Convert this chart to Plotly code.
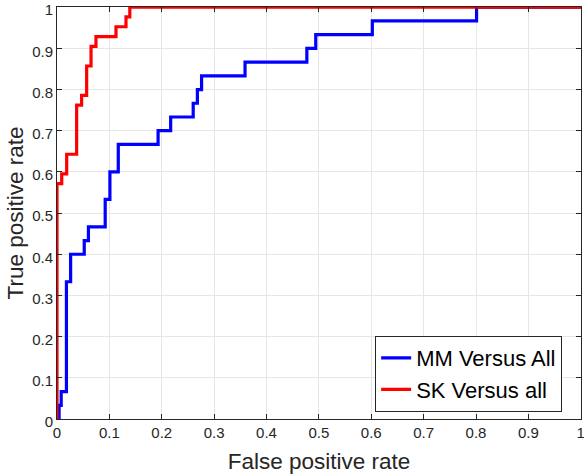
import plotly.graph_objects as go

# ROC points (step curves, horizontal-then-vertical)
mm_fpr = [0, 0.004, 0.008, 0.018, 0.026, 0.052, 0.060, 0.092, 0.101, 0.117,
          0.193, 0.217, 0.260, 0.268, 0.276, 0.359, 0.477, 0.494, 0.602, 0.801, 1.0]
mm_tpr = [0, 0.0333, 0.0667, 0.3333, 0.4, 0.4333, 0.4667, 0.5333, 0.6, 0.6667,
          0.7, 0.7333, 0.7667, 0.8, 0.8333, 0.8667, 0.9, 0.9333, 0.9667, 1.0, 1.0]

sk_fpr = [0, 0.0, 0.009, 0.0185, 0.0375, 0.047, 0.0566, 0.065, 0.0744,
          0.1126, 0.1317, 0.139, 1.0]
sk_tpr = [0, 0.5714, 0.5952, 0.6429, 0.7619, 0.7857, 0.8571, 0.9048, 0.9286,
          0.9524, 0.9762, 1.0, 1.0]

ticks = [round(i * 0.1, 1) for i in range(11)]
tick_text = ['0'] + [f'{t:g}' for t in ticks[1:-1]] + ['1']

fig = go.Figure()

fig.add_trace(go.Scatter(
    x=mm_fpr, y=mm_tpr, mode='lines', line_shape='hv',
    line=dict(color='#0000ff', width=3.2),
    name='MM Versus All', cliponaxis=False
))
fig.add_trace(go.Scatter(
    x=sk_fpr, y=sk_tpr, mode='lines', line_shape='hv',
    line=dict(color='#ff0000', width=3.2),
    name='SK Versus all', cliponaxis=False
))

axis_style = dict(
    range=[0, 1.0004], tickvals=ticks, ticktext=tick_text,
    showgrid=True, gridcolor='#e6e6e6', gridwidth=1,
    zeroline=False, showline=True, linecolor='#262626', linewidth=1,
    mirror='ticks', ticks='inside', ticklen=5, tickcolor='#262626',
    tickfont=dict(family='Liberation Sans', size=15, color='#262626'),
    ticklabeloverflow='allow', automargin=False,
)

fig.update_layout(
    width=584, height=476,
    margin=dict(l=57, r=3, t=7, b=57),
    paper_bgcolor='white', plot_bgcolor='white',
    font=dict(family='Liberation Sans', color='#262626'),
    xaxis=dict(axis_style, title=dict(text='False positive rate',
                                      font=dict(size=22.5), standoff=13)),
    yaxis=dict(axis_style, ticklabelshift=3,
               title=dict(text='True positive rate',
                          font=dict(size=22.5), standoff=2)),
    showlegend=True,
    legend=dict(
        x=0.964, y=0.017, xanchor='right', yanchor='bottom',
        bgcolor='white', bordercolor='#262626', borderwidth=1,
        font=dict(family='Liberation Sans', size=22, color='black'),
        tracegroupgap=0,
    ),
)

# drop the default page margin so the figure sits at the window's corner
fig.write_html("out.html",
               config={'displayModeBar': False},
               post_script="document.body.style.margin='0';")
